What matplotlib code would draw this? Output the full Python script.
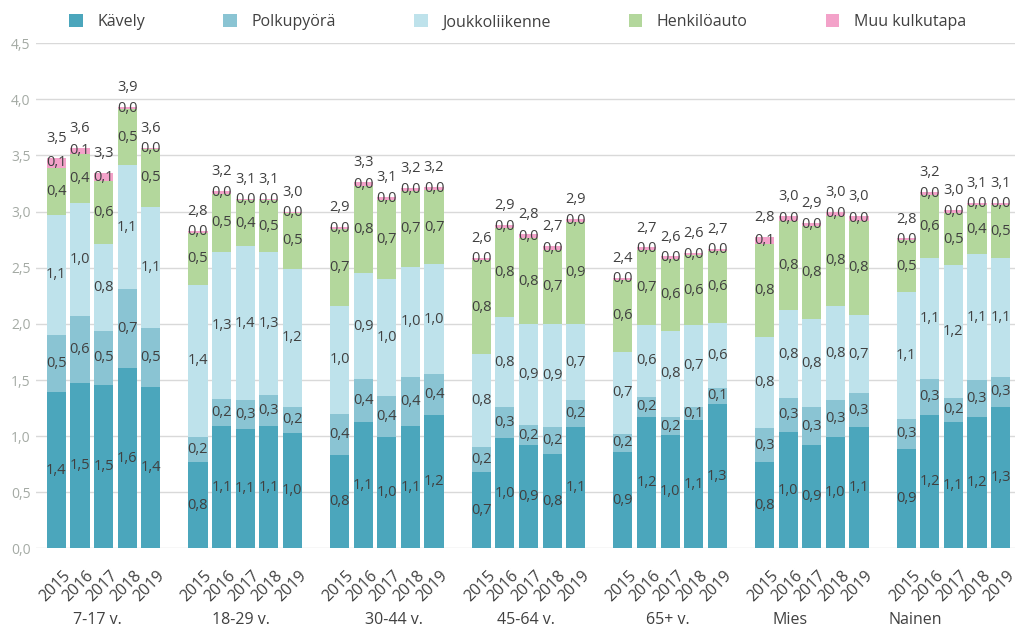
import matplotlib
matplotlib.use("Agg")
import matplotlib.pyplot as plt
import matplotlib.transforms as mtransforms
import numpy as np

plt.rcParams["font.family"] = ["Open Sans", "DejaVu Sans"]

groups = ["7-17 v.", "18-29 v.", "30-44 v.", "45-64 v.", "65+ v.", "Mies", "Nainen"]
years = ["2015", "2016", "2017", "2018", "2019"]
modes = ["Kävely", "Polkupyörä", "Joukkoliikenne", "Henkilöauto", "Muu kulkutapa"]
colors = ["#4ba6bc", "#8ac4d3", "#bee2eb", "#b3d79c", "#f3a2c9"]

# trips per person per day, one row per group, one value per year
kavely = [
    [1.39, 1.47, 1.46, 1.61, 1.44],
    [0.77, 1.09, 1.06, 1.09, 1.03],
    [0.83, 1.13, 0.99, 1.09, 1.19],
    [0.68, 0.98, 0.92, 0.84, 1.08],
    [0.86, 1.17, 1.01, 1.14, 1.29],
    [0.77, 1.04, 0.92, 0.99, 1.08],
    [0.89, 1.19, 1.13, 1.17, 1.26],
]
polkupyora = [
    [0.51, 0.60, 0.48, 0.70, 0.52],
    [0.22, 0.24, 0.26, 0.28, 0.23],
    [0.37, 0.38, 0.37, 0.44, 0.36],
    [0.22, 0.28, 0.18, 0.24, 0.24],
    [0.16, 0.18, 0.16, 0.12, 0.14],
    [0.30, 0.30, 0.34, 0.33, 0.30],
    [0.26, 0.32, 0.21, 0.33, 0.27],
]
joukkoliikenne = [
    [1.07, 1.01, 0.77, 1.10, 1.08],
    [1.36, 1.31, 1.37, 1.27, 1.23],
    [0.96, 0.94, 1.04, 0.98, 0.98],
    [0.83, 0.80, 0.90, 0.92, 0.68],
    [0.73, 0.64, 0.77, 0.73, 0.58],
    [0.81, 0.78, 0.78, 0.84, 0.70],
    [1.13, 1.08, 1.18, 1.12, 1.06],
]
henkiloauto = [
    [0.42, 0.43, 0.56, 0.50, 0.52],
    [0.46, 0.52, 0.41, 0.46, 0.50],
    [0.68, 0.78, 0.70, 0.67, 0.66],
    [0.84, 0.79, 0.76, 0.66, 0.91],
    [0.64, 0.67, 0.64, 0.62, 0.64],
    [0.83, 0.80, 0.83, 0.80, 0.84],
    [0.47, 0.56, 0.47, 0.44, 0.47],
]
muu = [
    [0.09, 0.06, 0.07, 0.02, 0.01],
    [0.02, 0.02, 0.01, 0.01, 0.01],
    [0.02, 0.03, 0.03, 0.03, 0.03],
    [0.02, 0.03, 0.04, 0.03, 0.02],
    [0.02, 0.02, 0.02, 0.02, 0.02],
    [0.06, 0.04, 0.03, 0.04, 0.04],
    [0.01, 0.02, 0.02, 0.02, 0.02],
]
series = [kavely, polkupyora, joukkoliikenne, henkiloauto, muu]

# group label centres (in bar slots) as placed in the original
group_label_x = [1.75, 7.8, 14.3, 19.9, 25.9, 31.1, 36.4]

fmt = lambda v: f"{v:.1f}".replace(".", ",")

fig = plt.figure(figsize=(10.15, 6.33), dpi=100)
ax = fig.add_axes([0.0355, 0.1335, 0.9645, 0.7985])

xs = np.array([g * 6 + i for g in range(len(groups)) for i in range(len(years))])
bottoms = np.zeros(len(xs))
for name, data, col in zip(modes, series, colors):
    vals = np.array(data).ravel()
    ax.bar(xs, vals, bottom=bottoms, width=0.81, color=col, label=name, zorder=2)
    for x, b, v in zip(xs, bottoms, vals):
        ax.text(x, b + v / 2, fmt(v), ha="center", va="center",
                fontsize=10.5, color="#404040", zorder=3)
    bottoms = bottoms + vals

for x, t in zip(xs, bottoms):
    ax.annotate(fmt(t), (x, t), xytext=(0, 14), textcoords="offset points",
                ha="center", va="center", fontsize=10.5, color="#404040")

ax.set_xlim(-0.86, 40.61)
ax.set_ylim(0, 4.5)
ax.set_yticks(np.arange(0, 4.51, 0.5))
ax.set_yticklabels([fmt(v) for v in np.arange(0, 4.51, 0.5)])
ax.yaxis.grid(True, color="#d9d9d9", linewidth=1, zorder=0)
ax.set_axisbelow(True)
for s in ax.spines.values():
    s.set_visible(False)
ax.tick_params(axis="y", length=0, labelsize=10, labelcolor="#a4aaa4", pad=4)
ax.tick_params(axis="x", length=0, labelsize=11.5, labelcolor="#404040", pad=2)

ax.set_xticks(xs)
ax.set_xticklabels(years * len(groups), rotation=45, ha="right",
                   va="top", rotation_mode="anchor")
for lab in ax.get_xticklabels():
    lab.set_transform(lab.get_transform() + mtransforms.ScaledTranslation(0.06, -0.16, fig.dpi_scale_trans))

trans = mtransforms.blended_transform_factory(ax.transData, ax.transAxes)
for gx, g in zip(group_label_x, groups):
    ax.text(gx, -0.1416, g, transform=trans, ha="center", va="center",
            fontsize=11.5, color="#404040")

fig.legend(loc="upper center", bbox_to_anchor=(0.51, 1.0), ncol=5, frameon=False,
           fontsize=11.5, handlelength=0.85, handleheight=0.85, handletextpad=0.9,
           columnspacing=4.9, labelcolor="#404040")

fig.savefig("out.png", dpi=100)
